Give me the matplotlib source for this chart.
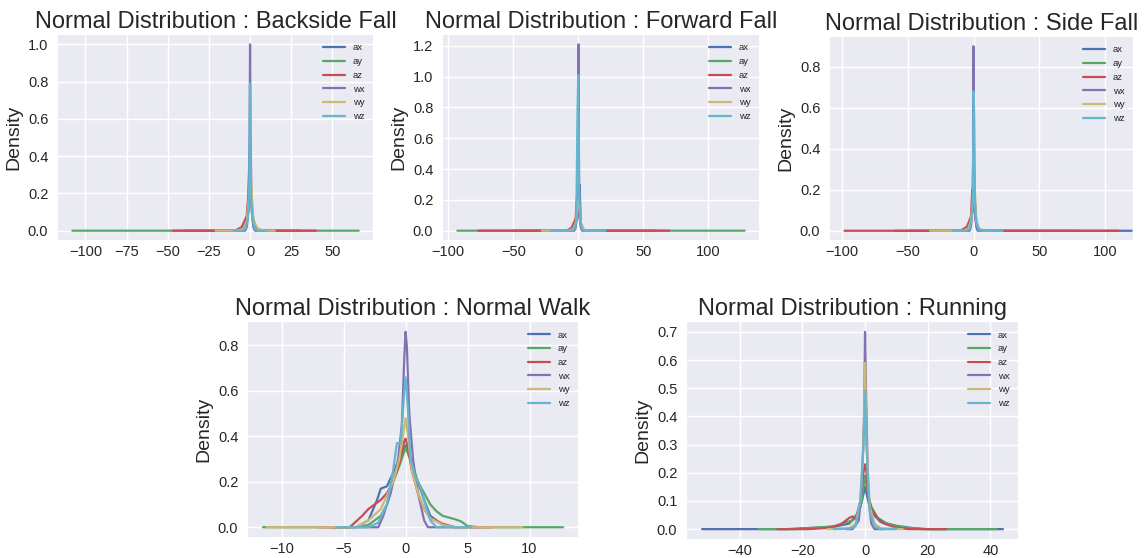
import matplotlib
matplotlib.use("Agg")
import matplotlib.pyplot as plt
from matplotlib.ticker import MultipleLocator

plt.style.use("seaborn-v0_8")
plt.rcParams["font.family"] = ["Liberation Sans", "DejaVu Sans"]

SENSORS = ["ax", "ay", "az", "wx", "wy", "wz"]
TITLES = ["Backside Fall", "Forward Fall", "Side Fall", "Normal Walk", "Running"]

# (value, density) points
BACK_AX = [(-40, 0), (-8, 0), (-4, 0.005), (-2, 0.05), (-1, 0.15), (0, 0.25), (1, 0.15), (2, 0.05), (4, 0.005), (8, 0), (30, 0)]
BACK_AY = [(-108, 0), (-8, 0), (-4, 0.01), (-2, 0.05), (-1, 0.12), (0.3, 0.28), (1, 0.15), (2, 0.06), (4, 0.01), (8, 0), (66, 0)]
BACK_AZ = [(-47, 0), (-9, 0), (-5, 0.02), (-2, 0.08), (-1, 0.2), (-0.5, 0.33), (0.5, 0.2), (1.5, 0.06), (4, 0.01), (7, 0), (40, 0)]
BACK_WX = [(-8, 0), (-3, 0), (-2, 0.02), (-1, 0.1), (-0.3, 0.5), (0, 1.0), (0.3, 0.5), (1, 0.1), (2, 0.02), (3, 0), (8, 0)]
BACK_WY = [(-21, 0), (-8, 0), (-4, 0.01), (-2, 0.05), (-1, 0.15), (0.5, 0.3), (1, 0.2), (2, 0.05), (5, 0.01), (9, 0), (15, 0)]
BACK_WZ = [(-10, 0), (-5, 0), (-3, 0.01), (-1.5, 0.06), (-0.5, 0.2), (0, 0.79), (0.5, 0.2), (1.5, 0.06), (3, 0.01), (5, 0), (10, 0)]

FWD_AX = [(-50, 0), (-8, 0), (-4, 0.005), (-2, 0.05), (-1, 0.15), (0, 0.2), (1, 0.3), (2, 0.05), (4, 0.005), (8, 0), (60, 0)]
FWD_AY = [(-93, 0), (-8, 0), (-4, 0.005), (-2, 0.04), (-1, 0.1), (0, 0.15), (1, 0.12), (2, 0.04), (4, 0.005), (8, 0), (128, 0)]
FWD_AZ = [(-77, 0), (-9, 0), (-5, 0.02), (-2, 0.08), (-1, 0.22), (0, 0.15), (1, 0.08), (2, 0.03), (4, 0.005), (7, 0), (70, 0)]
FWD_WX = [(-10, 0), (-3, 0), (-2, 0.02), (-1, 0.1), (-0.3, 0.5), (0.2, 1.21), (0.5, 0.5), (1, 0.1), (2, 0.02), (3, 0), (10, 0)]
FWD_WY = [(-28, 0), (-8, 0), (-4, 0.01), (-2, 0.05), (-1, 0.12), (0, 0.2), (1, 0.15), (2, 0.05), (4, 0.01), (7, 0), (20, 0)]
FWD_WZ = [(-21, 0), (-5, 0), (-3, 0.01), (-1.5, 0.06), (-0.5, 0.8), (0, 1.01), (0.5, 0.3), (1.5, 0.06), (3, 0.01), (5, 0), (21, 0)]

SIDE_AX = [(-60, 0), (-8, 0), (-4, 0.005), (-2, 0.05), (-1, 0.12), (0, 0.15), (1, 0.13), (2, 0.04), (4, 0.005), (8, 0), (120, 0)]
SIDE_AY = [(-50, 0), (-8, 0), (-4, 0.01), (-2, 0.05), (-1, 0.1), (0, 0.14), (1, 0.15), (2, 0.05), (4, 0.01), (8, 0), (80, 0)]
SIDE_AZ = [(-98, 0), (-10, 0), (-5, 0.02), (-2, 0.07), (-1, 0.2), (0, 0.13), (1, 0.08), (2, 0.03), (4, 0.005), (8, 0), (110, 0)]
SIDE_WX = [(-8, 0), (-3, 0), (-2, 0.02), (-1, 0.1), (-0.3, 0.38), (0, 0.9), (0.3, 0.4), (1, 0.1), (2, 0.02), (3, 0), (8, 0)]
SIDE_WY = [(-33, 0), (-8, 0), (-4, 0.01), (-2, 0.05), (-1, 0.12), (0, 0.15), (1, 0.19), (2, 0.05), (4, 0.01), (7, 0), (15, 0)]
SIDE_WZ = [(-16, 0), (-5, 0), (-3, 0.01), (-1.5, 0.05), (-0.5, 0.2), (0, 0.68), (0.5, 0.55), (1, 0.14), (2, 0.04), (4, 0.005), (7, 0), (22, 0)]

WALK_AX = [(-6, 0), (-4, 0), (-3, 0.03), (-2.3, 0.12), (-2, 0.17), (-1.5, 0.18), (-1, 0.24), (-0.5, 0.3), (0, 0.36),
           (0.3, 0.33), (0.6, 0.25), (1, 0.2), (1.5, 0.12), (2, 0.05), (3, 0.01), (4, 0), (6, 0)]
WALK_AY = [(-11.5, 0), (-4, 0), (-3, 0.01), (-2, 0.05), (-1.5, 0.1), (-1, 0.2), (-0.5, 0.27), (0, 0.35), (0.5, 0.28),
           (1, 0.2), (1.5, 0.15), (2, 0.1), (2.5, 0.07), (3, 0.05), (4, 0.035), (4.5, 0.025), (5, 0.005), (6, 0), (12.7, 0)]
WALK_AZ = [(-7, 0), (-4.5, 0), (-3.5, 0.05), (-3, 0.08), (-2.5, 0.1), (-2, 0.12), (-1.5, 0.15), (-1, 0.2), (-0.5, 0.28),
           (-0.1, 0.38), (0, 0.39), (0.2, 0.35), (0.5, 0.25), (1, 0.15), (1.5, 0.08), (2, 0.04), (3, 0.015), (4, 0), (7, 0)]
WALK_WX = [(-4, 0), (-2.2, 0), (-1.8, 0.05), (-1.2, 0.15), (-0.6, 0.3), (-0.3, 0.45), (-0.1, 0.75), (0, 0.86), (0.1, 0.8),
           (0.3, 0.5), (0.6, 0.3), (1.0, 0.15), (1.5, 0.03), (1.8, 0), (4, 0)]
WALK_WY = [(-11.2, 0), (-4, 0), (-3, 0.03), (-2, 0.08), (-1.5, 0.14), (-1, 0.2), (-0.5, 0.3), (0, 0.48), (0.2, 0.4),
           (0.5, 0.25), (1, 0.15), (1.5, 0.08), (2, 0.04), (3, 0.01), (4, 0), (9.4, 0)]
WALK_WZ = [(-5.6, 0), (-3, 0), (-2.2, 0.02), (-1.5, 0.1), (-1, 0.25), (-0.7, 0.37), (-0.4, 0.37), (-0.1, 0.6), (0, 0.66),
           (0.1, 0.6), (0.4, 0.3), (0.8, 0.22), (1.2, 0.18), (1.6, 0.1), (2, 0.03), (2.5, 0), (5.3, 0)]

RUN_AX = [(-52, 0), (-25, 0), (-20, 0.003), (-10, 0.008), (-5, 0.02), (-2, 0.06), (-1, 0.1), (0, 0.15), (1, 0.1), (2, 0.06),
          (5, 0.025), (10, 0.012), (15, 0.004), (20, 0), (44, 0)]
RUN_AY = [(-34, 0), (-22, 0), (-20, 0.002), (-10, 0.01), (-6, 0.025), (-4, 0.03), (-2, 0.06), (-1, 0.1), (0, 0.19), (1, 0.12),
          (2, 0.08), (4, 0.04), (7, 0.02), (10, 0.01), (15, 0.003), (18, 0), (42, 0)]
RUN_AZ = [(-28, 0), (-18, 0), (-12, 0.004), (-8, 0.015), (-5, 0.04), (-4, 0.045), (-3, 0.035), (-1.5, 0.1), (-0.5, 0.2), (0, 0.23),
          (0.5, 0.2), (1, 0.12), (2, 0.07), (4, 0.04), (6, 0.02), (10, 0.005), (14, 0), (26, 0)]
RUN_WX = [(-6, 0), (-4, 0), (-2, 0.03), (-1, 0.15), (-0.3, 0.4), (0, 0.70), (0.3, 0.5), (1, 0.12), (2, 0.02), (3, 0), (6, 0)]
RUN_WY = [(-12, 0), (-5, 0.003), (-3, 0.02), (-1.5, 0.1), (-0.5, 0.3), (0, 0.59), (0.5, 0.3), (1.5, 0.08), (3, 0.02),
          (5, 0.003), (12, 0)]
RUN_WZ = [(-10, 0), (-5, 0.002), (-3, 0.01), (-1.5, 0.1), (-0.5, 0.3), (0, 0.49), (0.5, 0.28), (1.5, 0.06), (3, 0.01),
          (5, 0), (10, 0)]

CURVES = [
    [BACK_AX, BACK_AY, BACK_AZ, BACK_WX, BACK_WY, BACK_WZ],
    [FWD_AX, FWD_AY, FWD_AZ, FWD_WX, FWD_WY, FWD_WZ],
    [SIDE_AX, SIDE_AY, SIDE_AZ, SIDE_WX, SIDE_WY, SIDE_WZ],
    [WALK_AX, WALK_AY, WALK_AZ, WALK_WX, WALK_WY, WALK_WZ],
    [RUN_AX, RUN_AY, RUN_AZ, RUN_WX, RUN_WY, RUN_WZ],
]

COLORS = ["#4C72B0", "#55A868", "#C44E52", "#8172B2", "#CCB974", "#64B5CD"]

W, H = 1148, 558
fig = plt.figure(figsize=(W / 100, H / 100), dpi=100)

# axes boxes in pixels: left, top, right, bottom
BOXES = [(58, 35, 373, 240), (443, 35, 759, 240), (830, 37, 1133, 240),
         (248, 322, 578, 537), (687, 322, 1018, 539)]

for i, (box, title, curves) in enumerate(zip(BOXES, TITLES, CURVES)):
    l, t, r, b = box
    ax = fig.add_axes([l / W, (H - b) / H, (r - l) / W, (b - t) / H])
    for name, pts, c in zip(SENSORS, curves, COLORS):
        xs = [p[0] for p in pts]
        ys = [p[1] for p in pts]
        ax.plot(xs, ys, color=c, lw=1.6, label=name)
    if i == 0:
        ax.xaxis.set_major_locator(MultipleLocator(25))
    if i == 2:
        ax.set_xlim(-109, 121)
    if i == 4:
        ax.yaxis.set_major_locator(MultipleLocator(0.1))
    ax.set_title("Normal Distribution : " + title, fontsize=17, color="#262626", pad=5)
    ax.set_ylabel("Density", fontsize=14, color="#262626")
    ax.tick_params(labelsize=10.5, colors="#262626")
    ax.tick_params(axis="x", pad=3.5)
    ax.legend(loc="upper right", fontsize=6.8, frameon=False, handlelength=2.4)

fig.savefig("out.png", dpi=100, facecolor="white")
